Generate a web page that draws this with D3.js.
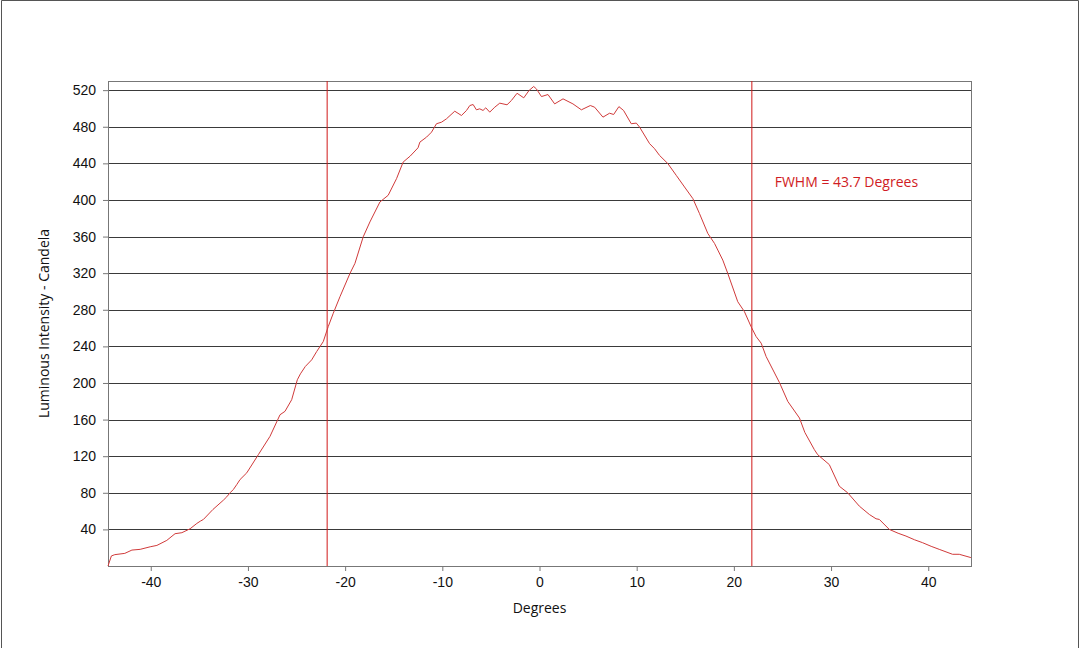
<!DOCTYPE html>
<html>
  <head>
    <meta charset="utf-8">
    <style>
      body {
        margin: 0;
        font-family: "Open Sans", "Noto Sans", sans-serif;
      }
      .grid line {
        stroke: #3a3a3a;
        stroke-width: 1px;
      }
      .curve {
        fill: none;
        stroke: #d03a3a;
        stroke-width: 1px;
      }
      .fwhm-line {
        stroke: #d01818;
        stroke-width: 1px;
      }
      .axis text {
        font-size: 14px;
        fill: #111;
      }
      .axis path, .axis line {
        stroke: #777;
      }
    </style>
  </head>
  <body>
    <script src="https://d3js.org/d3.v7.min.js"></script>
    <script>
      var degrees = [-44.4, -44.05, -43.7, -42.67, -41.94, -41.09, -40.06, -39.37, -38.35, -37.5,
        -36.8, -35.95, -35.26, -34.9, -34.58, -33.6, -32.53, -32.18, -31.84, -31.5,
        -31.15, -30.81, -30.12, -28.93, -27.73, -26.7, -26.19, -25.5, -24.92, -24.6,
        -24.1, -23.44, -22.93, -22.25, -21.74, -21.22, -20.53, -19.5, -18.99, -18.14,
        -17.45, -16.42, -15.57, -14.71, -14.03, -13.3, -12.5, -12.31, -11.62, -11.11,
        -10.6, -10.08, -9.57, -8.72, -8.03, -7.51, -7.17, -6.83, -6.49, -6.15,
        -5.81, -5.53, -5.12, -4.6, -4.09, -3.34, -2.89, -2.31, -1.62, -1.08,
        -0.6, -0.32, 0.2, 0.87, 1.56, 2.42, 3.44, 4.31, 5.23, 5.67,
        6.53, 7.21, 7.63, 8.17, 8.65, 9.44, 9.96, 10.3, 11.33, 11.84,
        12.35, 13.21, 14.07, 14.92, 15.78, 16.46, 17.32, 18.01, 18.35, 18.86,
        19.37, 20.4, 21.09, 21.77, 22.29, 22.81, 23.32, 24.69, 25.55, 26.75,
        27.3, 28.28, 28.62, 29.82, 30.85, 31.71, 32.91, 33.94, 34.63, 34.97,
        35.99, 36.9, 37.71, 38.6, 39.41, 40.3, 41.13, 42.5, 43.19, 44.39];
      var intensity = [0, 11, 12.4, 13.8, 17.4, 18.2, 21, 22.5, 28, 35.3,
        36.4, 40.7, 46.5, 49, 50.9, 61.8, 71.9, 75.6, 80, 83.6,
        89, 94.5, 101.8, 121.7, 141.7, 165.3, 169, 181.7, 203.5, 210,
        218, 225.3, 234.3, 245.2, 261.6, 276.2, 294.3, 319.8, 330.7, 359.7,
        376, 397.8, 405.1, 423.3, 441.4, 448, 457, 463.2, 468.7, 474.1,
        483.3, 485, 488.7, 497, 492.3, 497.8, 503.2, 504.3, 498.5, 499.6,
        497.8, 500.7, 496, 501.4, 505.8, 504, 508.7, 516.6, 511.6, 519.6,
        524, 521.4, 513, 515.2, 505, 510.5, 505, 498.5, 503.2, 501.4,
        490.5, 494.8, 493.4, 502, 497.8, 483.3, 484, 479.6, 461.5, 456,
        448.7, 439.7, 426.9, 414.2, 401.5, 385.2, 363.4, 352.5, 345.2, 334.3,
        319.8, 288.8, 277.9, 261.6, 250.7, 243.5, 228.9, 200.5, 179.8, 161.7,
        146, 127.2, 121.7, 110.8, 87.2, 80, 65.4, 56.3, 51.6, 50.9,
        40, 35.8, 32.7, 28.6, 25.5, 21.5, 18.2, 12.8, 12.8, 9.2];
      var xTicks = [-40, -30, -20, -10, 0, 10, 20, 30, 40];
      var yTicks = [40, 80, 120, 160, 200, 240, 280, 320, 360, 400, 440, 480, 520];
      var fwhmEdges = [-21.85, 21.85];
      var fwhmLabel = "FWHM = 43.7 Degrees";

      var margin = {top: 81, right: 109, bottom: 82, left: 108},
        width = 1080 - margin.left - margin.right,
        height = 648 - margin.top - margin.bottom;

      var root = d3.select("body").append("svg")
        .attr("width", 1080)
        .attr("height", 648);

      // thin frame round the picture (left, top, right)
      root.append("path")
        .attr("d", "M1.5,648V0.5H1078.5V648")
        .attr("fill", "none")
        .attr("stroke", "#555");

      var svg = root.append("g")
        .attr("transform", "translate(" + margin.left + "," + margin.top + ")");

      var x = d3.scaleLinear().domain([-44.4, 44.4]).range([0, width]);
      var y = d3.scaleLinear().domain([0, 530]).range([height, 0]);

      // horizontal grid
      svg.append("g")
        .attr("class", "grid")
        .selectAll("line")
        .data(yTicks)
        .enter().append("line")
          .attr("x1", 0)
          .attr("x2", width)
          .attr("y1", d => Math.round(y(d)) + 0.5)
          .attr("y2", d => Math.round(y(d)) + 0.5);

      // plot frame
      svg.append("rect")
        .attr("x", 0.5).attr("y", 0.5)
        .attr("width", width).attr("height", height)
        .attr("fill", "none")
        .attr("stroke", "#777");

      svg.append("g")
        .attr("class", "axis")
        .call(d3.axisLeft(y).tickValues(yTicks).tickSize(5).tickSizeOuter(0).tickPadding(7))
        .call(g => g.select(".domain").remove());

      svg.append("g")
        .attr("class", "axis")
        .attr("transform", "translate(0," + height + ")")
        .call(d3.axisBottom(x).tickValues(xTicks).tickFormat(d => String(d))
          .tickSize(5).tickSizeOuter(0).tickPadding(6))
        .call(g => g.select(".domain").remove());

      // FWHM markers
      svg.selectAll(".fwhm-line")
        .data(fwhmEdges)
        .enter().append("line")
          .attr("class", "fwhm-line")
          .attr("x1", d => x(d)).attr("x2", d => x(d))
          .attr("y1", 0).attr("y2", height);

      var line = d3.line()
        .x((d, i) => x(degrees[i]))
        .y(d => y(d));

      svg.append("path")
        .attr("class", "curve")
        .datum(intensity)
        .attr("d", line);

      svg.append("text")
        .attr("x", x(24.2))
        .attr("y", y(414))
        .attr("fill", "#d01c24")
        .attr("font-size", "14px")
        .text(fwhmLabel);

      // axis titles
      svg.append("text")
        .attr("x", width / 2)
        .attr("y", height + 47)
        .attr("text-anchor", "middle")
        .attr("font-size", "14px")
        .attr("fill", "#111")
        .text("Degrees");

      svg.append("text")
        .attr("transform", "translate(-59," + (height / 2) + ") rotate(-90)")
        .attr("text-anchor", "middle")
        .attr("font-size", "14px")
        .attr("fill", "#111")
        .text("Luminous Intensity - Candela");
    </script>
  </body>
</html>
